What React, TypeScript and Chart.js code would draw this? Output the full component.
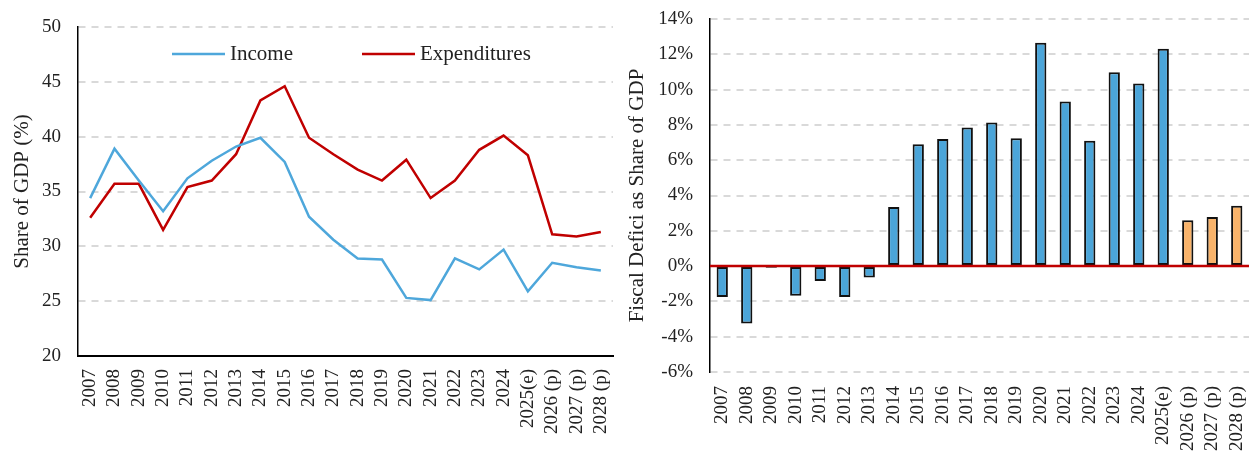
import React, { useEffect, useRef } from "react";
import { Chart, registerables } from "chart.js";

Chart.register(...registerables);

const years = [
  "2007", "2008", "2009", "2010", "2011", "2012", "2013", "2014", "2015", "2016", "2017",
  "2018", "2019", "2020", "2021", "2022", "2023", "2024", "2025(e)", "2026 (p)", "2027 (p)", "2028 (p)",
];

const income = [
  34.4, 38.9, 36.0, 33.2, 36.2, 37.8, 39.1, 39.9, 37.7, 32.7, 30.6,
  28.9, 28.8, 25.3, 25.1, 28.9, 27.9, 29.7, 25.9, 28.5, 28.1, 27.8,
];

const expenditures = [
  32.6, 35.7, 35.7, 31.5, 35.4, 36.0, 38.4, 43.3, 44.6, 39.9, 38.4,
  37.0, 36.0, 37.9, 34.4, 36.0, 38.8, 40.1, 38.3, 31.1, 30.9, 31.3,
];

const deficit = [
  -1.75, -3.25, -0.1, -1.68, -0.85, -1.75, -0.65, 3.35, 6.9, 7.2, 7.85,
  8.13, 7.25, 12.66, 9.32, 7.1, 10.98, 10.34, 12.32, 2.6, 2.78, 3.42,
];

const FONT = "'Liberation Serif', 'Times New Roman', serif";
const GRID = "#d9d9d9";
const BLUE_LINE = "#4EA7DB";
const RED = "#C00000";
const BLUE_BAR = "#4BA5D9";
const ORANGE_BAR = "#F9B36A";

const tickFont = { family: FONT, size: 19 };
const titleFont = { family: FONT, size: 21 };

const legendPlugin = {
  id: "inAreaLegend",
  afterDraw(chart: any) {
    const { ctx, chartArea } = chart;
    const y = chartArea.top + 27;
    const items = [
      { x: chartArea.left + 94, ds: chart.data.datasets[0] },
      { x: chartArea.left + 284, ds: chart.data.datasets[1] },
    ];
    ctx.save();
    ctx.font = `21px ${FONT}`;
    ctx.textBaseline = "middle";
    ctx.textAlign = "left";
    for (const it of items) {
      ctx.strokeStyle = it.ds.borderColor;
      ctx.lineWidth = 2.5;
      ctx.beginPath();
      ctx.moveTo(it.x, y);
      ctx.lineTo(it.x + 53, y);
      ctx.stroke();
      ctx.fillStyle = "#222";
      ctx.fillText(it.ds.label, it.x + 58, y);
    }
    ctx.restore();
  },
};

const zeroLinePlugin = {
  id: "zeroLine",
  afterDatasetsDraw(chart: any) {
    const { ctx, chartArea, scales } = chart;
    const y = scales.y.getPixelForValue(0);
    ctx.save();
    ctx.strokeStyle = RED;
    ctx.lineWidth = 2.5;
    ctx.beginPath();
    ctx.moveTo(chartArea.left, y);
    ctx.lineTo(chartArea.right, y);
    ctx.stroke();
    ctx.restore();
  },
};

const fitX = (h: number) => (s: any) => {
  s.height = h;
  s.paddingLeft = 0;
  s.paddingRight = 0;
};
const fitY = (w: number) => (s: any) => {
  s.width = w;
  s.paddingTop = 0;
  s.paddingBottom = 0;
};

function LeftChart() {
  const ref = useRef<HTMLCanvasElement>(null);
  useEffect(() => {
    const chart = new Chart(ref.current!, {
      type: "line",
      data: {
        labels: years,
        datasets: [
          { label: "Income", data: income, borderColor: BLUE_LINE, borderWidth: 2.5, pointRadius: 0, tension: 0 },
          { label: "Expenditures", data: expenditures, borderColor: RED, borderWidth: 2.5, pointRadius: 0, tension: 0 },
        ],
      },
      options: {
        animation: false,
        responsive: false,
        layout: { padding: { top: 27, right: 7, left: 0, bottom: 0 } },
        plugins: { legend: { display: false }, tooltip: { enabled: false } },
        scales: {
          x: {
            offset: true,
            grid: { display: false },
            border: { display: true, color: "#000", width: 2 },
            ticks: { autoSkip: false, minRotation: 90, maxRotation: 90, padding: 5, color: "#222", font: tickFont },
            afterFit: fitX(97),
          },
          y: {
            min: 20,
            max: 50,
            ticks: { stepSize: 5, padding: 17, color: "#222", font: tickFont },
            grid: { color: GRID, lineWidth: 2, drawTicks: false },
            border: { display: true, color: "#000", width: 1.5, dash: [7, 6] },
            title: { display: true, text: "Share of GDP (%)", color: "#222", font: titleFont, padding: { top: 10, bottom: 0 } },
            afterFit: fitY(78),
          },
        },
      },
      plugins: [legendPlugin],
    } as any);
    return () => chart.destroy();
  }, []);
  return <canvas ref={ref} width={620} height={453} style={{ position: "absolute", left: 0, top: 0 }} />;
}

function RightChart() {
  const ref = useRef<HTMLCanvasElement>(null);
  useEffect(() => {
    const chart = new Chart(ref.current!, {
      type: "bar",
      data: {
        labels: years,
        datasets: [
          {
            label: "Fiscal Deficit",
            data: deficit,
            backgroundColor: years.map((y) => (y.includes("(p)") ? ORANGE_BAR : BLUE_BAR)),
            borderColor: "#111",
            borderWidth: 2,
            borderSkipped: false,
            barPercentage: 0.46,
            categoryPercentage: 1,
          },
        ],
      },
      options: {
        animation: false,
        responsive: false,
        layout: { padding: { top: 19, right: 4, left: 0, bottom: 0 } },
        plugins: { legend: { display: false }, tooltip: { enabled: false } },
        scales: {
          x: {
            grid: { display: false },
            border: { display: false },
            ticks: { autoSkip: false, minRotation: 90, maxRotation: 90, padding: 6, color: "#222", font: tickFont },
            afterFit: fitX(81),
          },
          y: {
            min: -6,
            max: 14,
            ticks: { stepSize: 2, padding: 17, color: "#222", font: tickFont, callback: (v: any) => `${v}%` },
            grid: { color: (c: any) => (c.tick && c.tick.value === 0 ? "rgba(0,0,0,0)" : GRID), lineWidth: 2, drawTicks: false },
            border: { display: true, color: "#000", width: 1.5, dash: [7, 6] },
            title: { display: true, text: "Fiscal Defici as Share of GDP", color: "#222", font: titleFont, padding: { top: 5, bottom: 0 } },
            afterFit: fitY(90),
          },
        },
      },
      plugins: [zeroLinePlugin],
    } as any);
    return () => chart.destroy();
  }, []);
  return <canvas ref={ref} width={633} height={453} style={{ position: "absolute", left: 620, top: 0 }} />;
}

export default function App() {
  return (
    <div style={{ position: "absolute", left: 0, top: 0, width: 1253, height: 453, background: "#fff", overflow: "hidden" }}>
      <LeftChart />
      <RightChart />
    </div>
  );
}
